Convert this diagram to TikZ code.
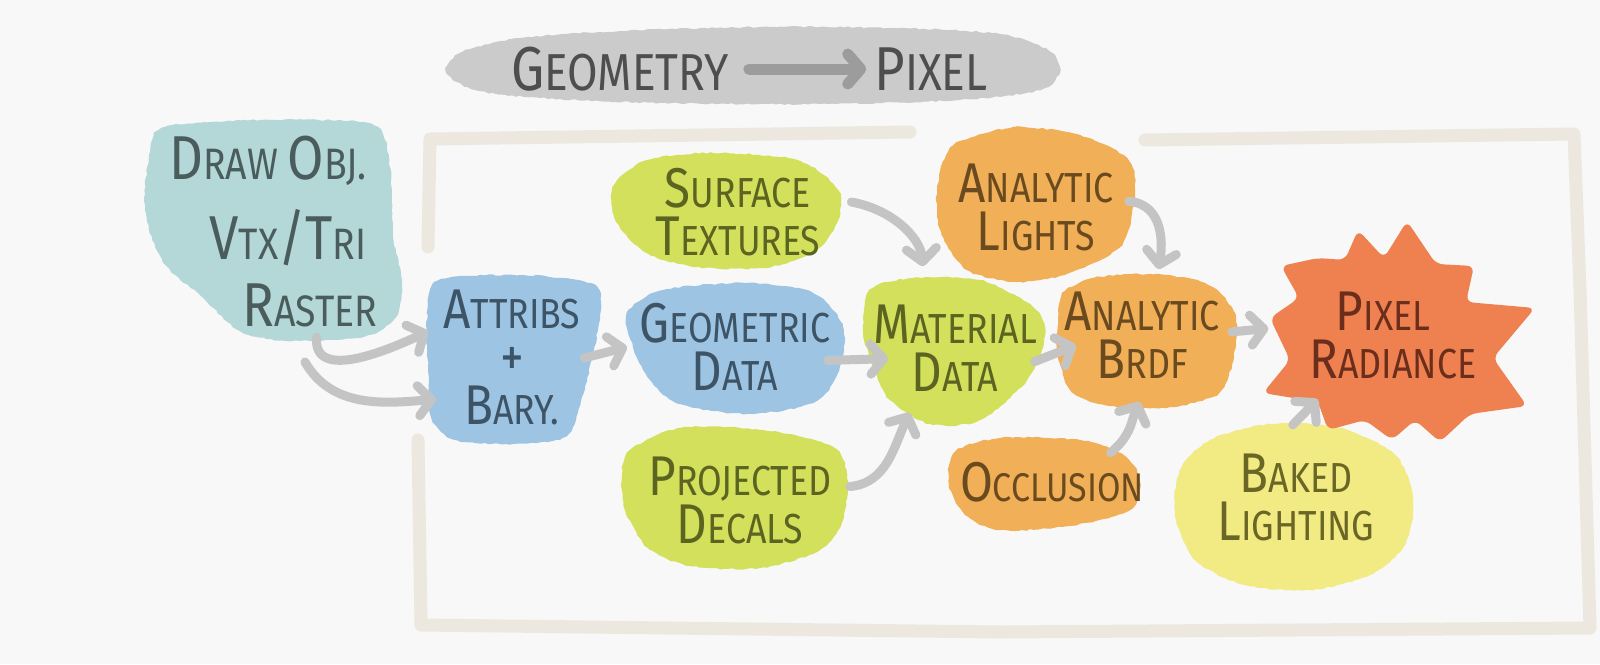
\documentclass[tikz,border=0pt]{standalone}
\usepackage{fontspec}
\setmainfont{Fira Sans}[FakeStretch=0.85]
\usetikzlibrary{arrows.meta,shapes.geometric,decorations.pathmorphing}
\definecolor{paper}{HTML}{F8F8F8}
\definecolor{framec}{HTML}{ECE8E0}
\definecolor{arrowc}{HTML}{C4C4C4}
\definecolor{titlebg}{HTML}{CBCBCB}
\definecolor{titlearr}{HTML}{9C9C9C}
\definecolor{titletxt}{HTML}{4E4E4E}
\definecolor{tealf}{HTML}{B4D7D8}
\definecolor{tealt}{HTML}{4B5C5C}
\definecolor{bluef}{HTML}{9DC4E3}
\definecolor{bluet}{HTML}{3D5366}
\definecolor{greenf}{HTML}{D3E05B}
\definecolor{greent}{HTML}{5B6421}
\definecolor{orangef}{HTML}{F1AF57}
\definecolor{oranget}{HTML}{6A4A1F}
\definecolor{redf}{HTML}{EF8150}
\definecolor{redt}{HTML}{6B2D1C}
\definecolor{yellowf}{HTML}{F2EA82}
\definecolor{yellowt}{HTML}{6A6726}
\newcommand\Bg[1]{{\fontsize{56}{48}\selectfont #1}}
\newcommand\BG[1]{{\fontsize{62}{70}\selectfont #1}}
\begin{document}
\begin{tikzpicture}[x=1pt,y=1pt,
  blob/.style={decorate,decoration={random steps,segment length=4pt,amplitude=0.8pt}},
  hub/.style={ellipse,inner sep=0pt,outer sep=0pt},
  word/.style={inner sep=0pt,align=center,font=\fontsize{42}{48}\selectfont},
  bigword/.style={word,text=tealt,font=\fontsize{44}{70}\selectfont},
  conn/.style={draw=arrowc,line width=9pt,line cap=round,-{Straight Barb[length=13pt,width=30pt,round]}},
  framel/.style={draw=framec,line width=13pt,line cap=round,line join=round}]
\begin{scope}[y=-1pt]
\fill[paper] (0,0) rectangle (1600,664);
\useasboundingbox (0,0) rectangle (1600,664);
% frame
\draw[framel] (428,247) -- (430,139) -- (910,132);
\draw[framel] (418,440) -- (421,625) -- (1000,632) -- (1590,628) -- (1580,290) -- (1574,134) -- (1145,140);
% title
\fill[titlebg,blob] plot[smooth cycle] coordinates {(446,72) (462,52) (520,38) (620,31) (760,27) (900,28) (1000,34) (1048,50) (1060,70) (1040,90) (960,100) (820,104) (660,103) (540,98) (475,90)};
% blobs
\fill[tealf,blob] plot[smooth cycle] coordinates {(165,127) (260,120) (363,122) (385,140) (392,190) (393,237) (402,283) (395,318) (363,337) (287,341) (240,331) (203,298) (163,262) (145,210) (150,152)};
\fill[bluef,blob] plot[smooth cycle] coordinates {(437,281) (520,275) (590,283) (601,303) (594,350) (582,397) (567,436) (513,444) (455,440) (431,417) (428,370) (427,320)};
\fill[bluef,blob] plot[smooth cycle] coordinates {(627,313) (663,290) (747,283) (813,293) (843,327) (838,373) (813,403) (747,414) (680,404) (650,380) (633,347)};
\fill[greenf,blob] plot[smooth cycle] coordinates {(613,187) (647,160) (713,153) (797,160) (838,190) (837,223) (813,253) (763,268) (697,267) (647,253) (617,223)};
\fill[greenf,blob] plot[smooth cycle] coordinates {(630,450) (680,428) (763,430) (833,447) (847,478) (843,520) (820,550) (760,568) (690,566) (648,548) (625,510) (622,475)};
\fill[greenf,blob] plot[smooth cycle] coordinates {(870,290) (913,278) (980,280) (1033,307) (1045,335) (1027,380) (980,420) (930,424) (890,400) (873,367) (863,330)};
\fill[orangef,blob] plot[smooth cycle] coordinates {(950,148) (990,132) (1023,127) (1080,135) (1127,158) (1135,190) (1122,245) (1067,274) (1017,282) (967,270) (941,232) (937,190)};
\fill[orangef,blob] plot[smooth cycle] coordinates {(1063,293) (1093,278) (1150,274) (1205,283) (1233,310) (1236,345) (1220,392) (1170,407) (1110,406) (1072,392) (1058,355) (1058,318)};
\fill[orangef,blob] plot[smooth cycle] coordinates {(955,452) (1000,438) (1080,440) (1125,456) (1140,482) (1130,510) (1070,526) (1000,530) (965,515) (949,485)};
\fill[yellowf,blob] plot[smooth cycle] coordinates {(1210,440) (1270,424) (1340,428) (1395,455) (1413,500) (1405,545) (1370,575) (1310,590) (1245,585) (1195,560) (1175,515) (1180,470)};
\fill[redf,rounded corners=7pt] (1407,221) -- (1436,264) -- (1474,266) -- (1466,302) -- (1535,308) -- (1493,358) -- (1527,406) -- (1470,414) -- (1440,442) -- (1415,420) -- (1392,440) -- (1365,420) -- (1328,430) -- (1318,402) -- (1263,393) -- (1290,360) -- (1270,318) -- (1299,298) -- (1281,266) -- (1318,258) -- (1345,260) -- (1358,230) -- (1384,258) -- cycle;
% title words
\node[word,text=titletxt,font=\fontsize{52}{60}\selectfont] (geo) at (620,69) {\BG{G}EOMETRY};
\node[word,text=titletxt,font=\fontsize{52}{60}\selectfont] (pix) at (931,69) {\BG{P}IXEL};
% nodes
\node[hub,minimum width=256pt,minimum height=220pt,
  label={[bigword,xshift=-14pt,yshift=72pt]center:{\BG{D}RAW \BG{O}BJ.}},
  label={[bigword,xshift=6pt,yshift=-5pt]center:{\BG{V}TX\BG{/}\BG{T}RI}},
  label={[bigword,xshift=28pt,yshift=-72pt]center:{\BG{R}ASTER}}] (draw) at (282,233) {};
\node[hub,minimum width=176pt,minimum height=168pt,label={[word,text=bluet]center:{\Bg{A}TTRIBS\\\Bg{+}\\\Bg{B}ARY.}}] (attr) at (512,357) {};
\node[hub,minimum width=216pt,minimum height=130pt,label={[word,text=bluet]center:{\Bg{G}EOMETRIC\\\Bg{D}ATA}}] (geom) at (735,347) {};
\node[hub,minimum width=230pt,minimum height=120pt,label={[word,text=greent]center:{\Bg{S}URFACE\\\Bg{T}EXTURES}}] (surf) at (738,212) {};
\node[hub,minimum width=224pt,minimum height=140pt,label={[word,text=greent]center:{\Bg{P}ROJECTED\\\Bg{D}ECALS}}] (proj) at (740,500) {};
\node[hub,minimum width=188pt,minimum height=148pt,label={[word,text=greent]center:{\Bg{M}ATERIAL\\\Bg{D}ATA}}] (mat) at (955,348) {};
\node[hub,minimum width=198pt,minimum height=154pt,label={[word,text=oranget]center:{\Bg{A}NALYTIC\\\Bg{L}IGHTS}}] (lights) at (1036,207) {};
\node[hub,minimum width=180pt,minimum height=134pt,label={[word,text=oranget]center:{\Bg{A}NALYTIC\\\Bg{B}RDF}}] (brdf) at (1142,335) {};
\node[hub,minimum width=186pt,minimum height=96pt,label={[word,text=oranget,font=\fontsize{40}{48}\selectfont]center:{\Bg{O}CCLUSION}}] (occ) at (1052,482) {};
\node[hub,minimum width=250pt,minimum height=190pt,label={[word,text=redt]center:{\Bg{P}IXEL\hspace*{20pt}\\\Bg{R}ADIANCE}}] (rad) at (1393,335) {};
\node[hub,minimum width=240pt,minimum height=166pt,label={[word,text=yellowt]center:{\Bg{B}AKED\\\Bg{L}IGHTING}}] (baked) at (1296,497) {};
\coordinate (bstart) at (305,362);
\end{scope}
% connectors
\draw[conn,draw=titlearr,line width=11pt,shorten <=20pt,shorten >=8pt] (geo.east) -- (pix.west);
\draw[conn,shorten <=-2pt] (draw.-72) to[out=-95,in=205] (attr.163);
\draw[conn] (bstart) to[out=-60,in=185] (attr.209);
\draw[conn,shorten <=-16pt] (attr.2) -- (geom.180);
\draw[conn,shorten <=-13pt,shorten >=-26pt] (geom.-7) -- (mat.187);
\draw[conn,shorten >=12pt] (surf.5) to[out=-10,in=95] (mat.114);
\draw[conn] (proj.7) to[out=5,in=-115] (mat.235);
\draw[conn,shorten <=-15pt,shorten >=-22pt] (mat.-5) -- (brdf.192);
\draw[conn,shorten <=-6pt] (lights.3) to[out=-5,in=80] (brdf.76);
\draw[conn,shorten <=-8pt] (occ.28) to[out=40,in=-115] (brdf.-92);
\draw[conn] (brdf.2) -- (rad.177);
\draw[conn,shorten <=-15pt,shorten >=-10pt] (baked.85) -- (rad.221);
\end{tikzpicture}
\end{document}
